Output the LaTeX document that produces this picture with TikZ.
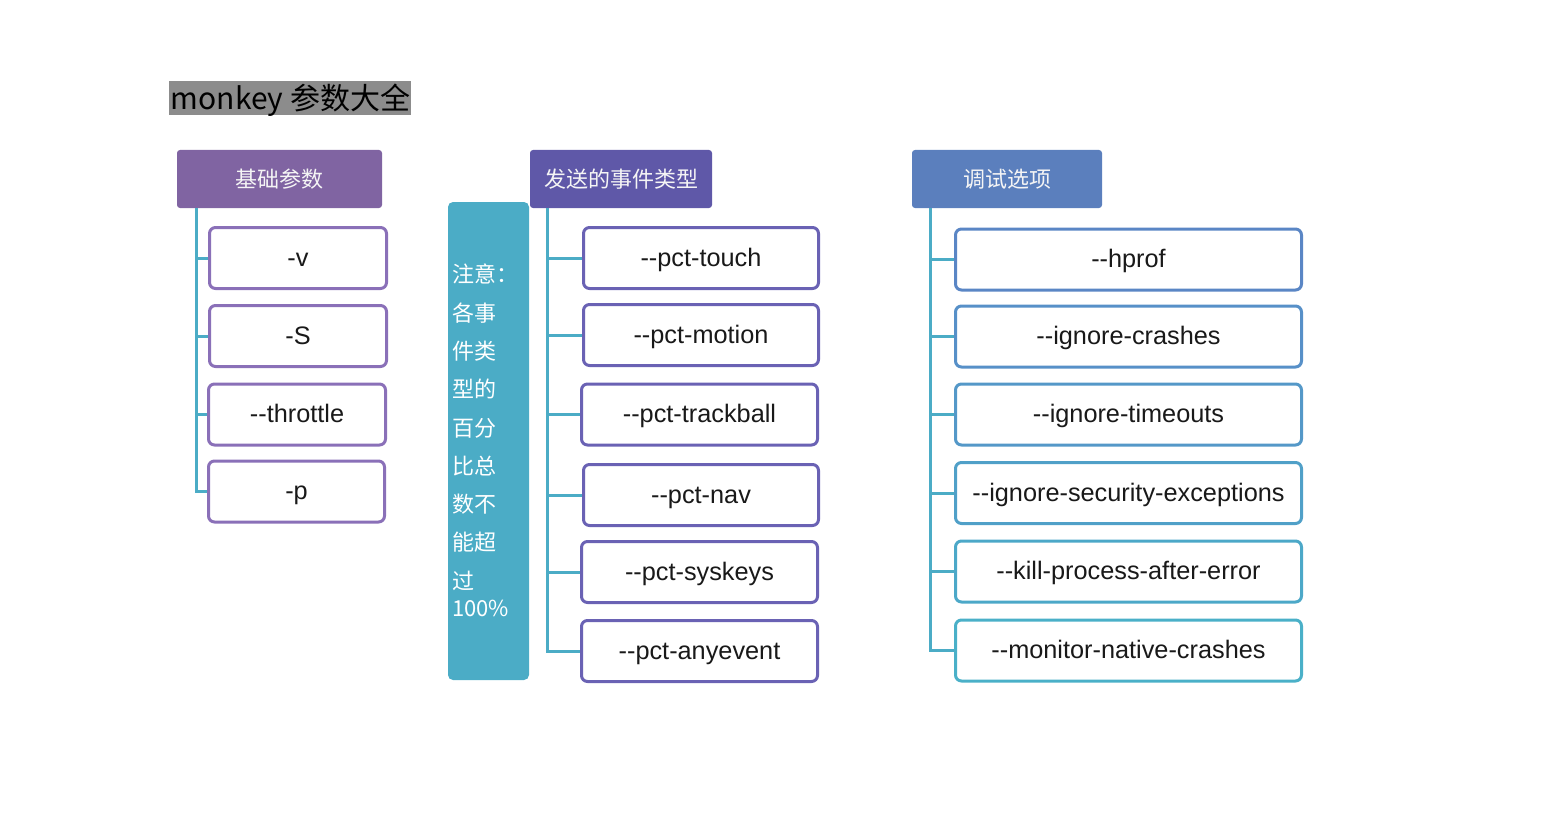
\documentclass[tikz,border=0pt]{standalone}
\usepackage{fontspec}
\setmainfont{Liberation Sans}
\newfontfamily\boxfont{Liberation Sans}
\newfontfamily\cjk{Noto Sans CJK SC}
\definecolor{conncol}{HTML}{4BACC6}
\definecolor{hdrA}{HTML}{8064A2}
\definecolor{hdrB}{HTML}{5F58A8}
\definecolor{hdrC}{HTML}{5B7FBD}
\definecolor{bordA}{HTML}{8A70B8}
\definecolor{bordB}{HTML}{6A62B4}
\definecolor{bC1}{HTML}{5A86C5}
\definecolor{bC2}{HTML}{5790C8}
\definecolor{bC3}{HTML}{5498C8}
\definecolor{bC4}{HTML}{50A0C8}
\definecolor{bC5}{HTML}{4CA8C8}
\definecolor{bC6}{HTML}{4AB0C8}
\definecolor{titlebg}{HTML}{8C8C8C}
\tikzset{
  hdr/.style={rectangle, rounded corners=3pt, draw=none, text=white!92!gray, inner sep=0pt,
    font=\cjk\fontsize{22}{26}\selectfont, minimum height=58pt},
  item/.style={rectangle, rounded corners=6pt, fill=white, line width=3pt, inner sep=0pt,
    font=\boxfont\fontsize{25.3}{28}\selectfont, text=black!90, minimum height=61pt,
    text height=21pt, text depth=4.5pt},
  conn/.style={draw=conncol, line width=3pt},
  notebox/.style={rectangle, rounded corners=5pt, fill=conncol, draw=none, inner sep=0pt},
}
\begin{document}
\begin{tikzpicture}[x=1pt,y=-1pt]
\useasboundingbox (0,0) rectangle (1550,832);
% title
\node[fill=titlebg, inner sep=0pt, minimum width=242pt, minimum height=34pt, text=black] (title) at (290,98) {};
\node[inner sep=0pt, font=\cjk\fontsize{30}{32}\selectfont, text=black] (titletxt) at (290.5,100) {monkey 参数大全};

% ---------- column 1
\node[hdr, fill=hdrA, minimum width=205pt] (h1) at (279.5,179) {基础参数};
\node[item, draw=bordA, minimum width=177pt] (v) at (298,258) {-v};
\node[item, draw=bordA, minimum width=177pt] (S) at (298,336) {-S};
\node[item, draw=bordA, minimum width=177pt] (thr) at (297,414.5) {--throttle};
\node[item, draw=bordA, minimum width=176pt] (p) at (296.5,491.5) {-p};
\coordinate (t1) at (196,208);
\draw[conn] (t1) |- (p.west);
\foreach \n in {v,S,thr} \draw[conn] (t1 |- \n.west) -- (\n.west);

% ---------- column 2
\node[notebox, minimum width=81pt, minimum height=478pt] (note) at (488.5,441) {};
\node[anchor=north west, inner sep=0pt, text=white, align=left, font=\cjk\fontsize{22}{38.3}\selectfont] (notetxt) at (452,264)
  {注意：\\各事\\件类\\型的\\百分\\比总\\数不\\能超\\过\\[-11pt]100\%};
\node[hdr, fill=hdrB, minimum width=182pt] (h2) at (621,179) {发送的事件类型};
\node[item, draw=bordB, minimum width=235pt] (touch) at (701,258) {--pct-touch};
\node[item, draw=bordB, minimum width=235pt] (motion) at (701,335) {--pct-motion};
\node[item, draw=bordB, minimum width=236pt] (track) at (699.5,414.5) {--pct-trackball};
\node[item, draw=bordB, minimum width=235pt] (nav) at (701,495) {--pct-nav};
\node[item, draw=bordB, minimum width=236pt] (sys) at (699.5,572) {--pct-syskeys};
\node[item, draw=bordB, minimum width=236pt] (any) at (699.5,651) {--pct-anyevent};
\coordinate (t2) at (547,208);
\draw[conn] (t2) |- (any.west);
\foreach \n in {touch,motion,track,nav,sys} \draw[conn] (t2 |- \n.west) -- (\n.west);

% ---------- column 3
\node[hdr, fill=hdrC, minimum width=190pt] (h3) at (1007,179) {调试选项};
\node[item, draw=bC1, minimum width=346pt] (hprof) at (1128.5,259.5) {--hprof};
\node[item, draw=bC2, minimum width=346pt] (igc) at (1128.5,336.5) {--ignore-crashes};
\node[item, draw=bC3, minimum width=346pt] (igt) at (1128.5,414.5) {--ignore-timeouts};
\node[item, draw=bC4, minimum width=346pt] (igs) at (1128.5,493) {--ignore-security-exceptions};
\node[item, draw=bC5, minimum width=346pt] (kill) at (1128.5,571.5) {--kill-process-after-error};
\node[item, draw=bC6, minimum width=346pt] (mon) at (1128.5,650.5) {--monitor-native-crashes};
\coordinate (t3) at (930,208);
\draw[conn] (t3) |- (mon.west);
\foreach \n in {hprof,igc,igt,igs,kill} \draw[conn] (t3 |- \n.west) -- (\n.west);
\end{tikzpicture}
\end{document}
